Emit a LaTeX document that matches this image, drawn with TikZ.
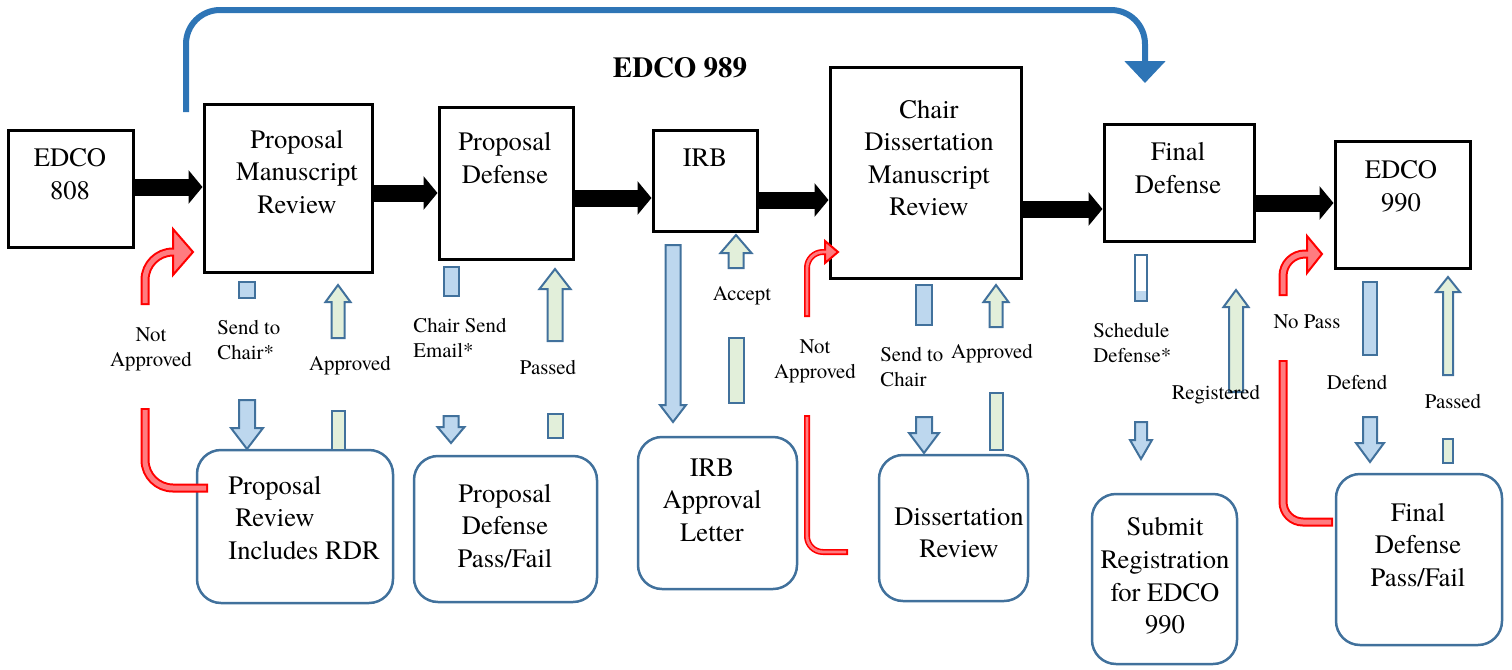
\documentclass[tikz,border=0pt]{standalone}
\usepackage{fontspec}
\setmainfont{texgyretermes}[Extension=.otf, UprightFont=*-regular, BoldFont=*-bold, ItalicFont=*-italic, BoldItalicFont=*-bolditalic]
\usetikzlibrary{arrows.meta,calc}
\definecolor{boxblue}{HTML}{41719C}
\definecolor{lblue}{HTML}{BDD7EE}
\definecolor{lgreen}{HTML}{E2EFDA}
\definecolor{topblue}{HTML}{2E75B6}
\definecolor{pinkred}{HTML}{FF7C80}
\newcommand\barrow[7]{\draw[#1] ({#2-#3},#5) -- ({#2+#3},#5) -- ({#2+#3},#6) -- ({#2+#4},#6) -- (#2,#7) -- ({#2-#4},#6) -- ({#2-#3},#6) -- cycle;}
\newcommand\bshaft[5]{\draw[#1] ({#2-#3},#4) rectangle ({#2+#3},#5);}
\begin{document}
\begin{tikzpicture}[x=0.5pt,y=-0.5pt,
  topbox/.style={draw=black, line width=1.5pt, fill=white, inner sep=0pt},
  botbox/.style={draw=boxblue, line width=1.25pt, rounded corners=12pt, inner sep=0pt},
  btxt/.style={font=\fontsize{13.3}{16.3}\selectfont, align=center, inner sep=0pt},
  ltxt/.style={font=\fontsize{10.4}{12.4}\selectfont, align=left, inner sep=0pt},
  ctxt/.style={font=\fontsize{10.4}{12.4}\selectfont, align=center, inner sep=0pt},
  barr/.style={draw=boxblue, fill=lblue, line width=1pt},
  garr/.style={draw=boxblue, fill=lgreen, line width=1pt},
  blk/.style={line width=8.5pt, -{Triangle[length=7pt,width=16.5pt]}},
  redout/.style={draw=red, line width=4.5pt},
  redin/.style={draw=pinkred, line width=2.5pt},
  redouts/.style={draw=red, line width=3pt},
  redins/.style={draw=pinkred, line width=1.4pt},
  redhead/.style={draw=red, fill=pinkred, line width=1pt, line join=miter}]
\useasboundingbox (0,0) rectangle (1512,670);

% ---------- top boxes ----------
\node[topbox, minimum width=62.5pt, minimum height=58.5pt] (e808) at (70.5,188.5) {};
\node[topbox, minimum width=84pt, minimum height=84pt] (pmr) at (288,188) {};
\node[topbox, minimum width=67pt, minimum height=76pt] (pd) at (506,183) {};
\node[topbox, minimum width=52pt, minimum height=50.5pt] (irb) at (705,180.5) {};
\node[topbox, minimum width=95.5pt, minimum height=105.5pt] (cdmr) at (925.5,172.5) {};
\node[topbox, minimum width=75pt, minimum height=58.5pt] (fd) at (1179,182.5) {};
\node[topbox, minimum width=67.5pt, minimum height=63.5pt] (e990) at (1402.5,204.5) {};

\node[btxt] (te808) at (70,174) {EDCO\\808};
\node[btxt] (tpmr) at (297,172) {Proposal\\Manuscript\\Review};
\node[btxt] (tpd) at (505,158) {Proposal\\Defense};
\node[btxt] (tirb) at (705,158) {IRB};
\node[btxt] (tcdmr) at (929,158) {Chair\\Dissertation\\Manuscript\\Review};
\node[btxt] (tfd) at (1178,168) {Final\\Defense};
\node[btxt] (te990) at (1401,186) {EDCO\\990};

\node[font=\fontsize{14.5}{16}\selectfont\bfseries, inner sep=0pt] (title) at (680,68) {EDCO 989};

% ---------- black arrows ----------
\draw[blk] (e808.east |- 0,187) -- (pmr.west |- 0,187);
\draw[blk] (pmr.east |- 0,193) -- (pd.west |- 0,193);
\draw[blk] (pd.east |- 0,198) -- (irb.west |- 0,198);
\draw[blk] (irb.east |- 0,200) -- (cdmr.west |- 0,200);
\draw[blk] (cdmr.east |- 0,209) -- (fd.west |- 0,209);
\draw[blk] (fd.east |- 0,203) -- (e990.west |- 0,203);

% ---------- top blue arrow ----------
\coordinate (ts) at (186,112);
\coordinate (te) at (1145,83);
\draw[topblue, line width=3pt, rounded corners=17pt, -{Triangle[length=11pt,width=20pt]}]
  (ts) -- (ts |- 0,10) -- (te |- 0,10) -- (te);

% ---------- bottom boxes ----------
\node[botbox, minimum width=98pt, minimum height=76.5pt] (prr) at (295,526.5) {};
\node[botbox, minimum width=91.5pt, minimum height=73pt] (pdpf) at (505.5,529) {};
\node[botbox, minimum width=79.5pt, minimum height=76pt] (irbl) at (717.5,513) {};
\node[botbox, minimum width=74.5pt, minimum height=73pt] (dr) at (953.5,528) {};
\node[botbox, minimum width=72.5pt, minimum height=85pt] (sr) at (1164.5,579) {};
\node[botbox, minimum width=83pt, minimum height=85.5pt] (fdpf) at (1419,559.5) {};

\node[btxt, align=left, anchor=west] (tprr) at (228,518) {Proposal\\\hspace{3.5pt}Review\\Includes RDR};
\node[btxt] (tpdpf) at (505,526) {Proposal\\Defense\\Pass/Fail};
\node[btxt] (tirbl) at (712,500) {IRB\\Approval\\Letter};
\node[btxt] (tdr) at (959,533) {Dissertation\\Review};
\node[btxt] (tsr) at (1165,576) {Submit\\Registration\\for EDCO\\990};
\node[btxt] (tfdpf) at (1418,545) {Final\\Defense\\Pass/Fail};

% ---------- block arrows ----------
% Send to Chair*
\bshaft{barr}{247}{8}{282}{298}
\barrow{barr}{247}{8}{16}{400}{428}{449}
% Approved
\barrow{garr}{338}{6.5}{12.5}{338}{302}{285}
\bshaft{garr}{338}{6.5}{411}{450}
% Chair Send Email*
\bshaft{barr}{451}{7.5}{267}{296}
\barrow{barr}{451}{7.5}{13.5}{416}{427}{443}
% Passed
\barrow{garr}{555}{7.5}{15.5}{341}{289}{269}
\bshaft{garr}{555}{7.5}{414}{438}
% IRB down
\barrow{barr}{673}{7.5}{13}{245}{405}{422}
% Accept
\barrow{garr}{736}{7.5}{15.5}{268}{253}{235}
\bshaft{garr}{736}{7.5}{338}{403}
% Send to Chair
\bshaft{barr}{924}{8}{285}{325}
\barrow{barr}{924}{8}{15}{417}{433}{453}
% Approved (dissertation)
\barrow{garr}{996}{6.5}{12.5}{327}{302}{285}
\bshaft{garr}{996}{6.5}{393}{450}
% Schedule Defense*
\fill[lblue] (1135,291) rectangle (1147,301);
\draw[boxblue, line width=1pt] (1135,255) rectangle (1147,301);
\barrow{barr}{1141}{6}{11}{422}{440}{459}
% Registered
\barrow{garr}{1236}{7}{12.5}{392}{307}{290}
% Defend
\bshaft{barr}{1370}{7}{282}{355}
\barrow{barr}{1370}{7}{14}{417}{443}{462}
% Passed (final)
\barrow{garr}{1448}{5}{12}{375}{292}{277}
\bshaft{garr}{1448}{5}{439}{463}

% ---------- red return arrows ----------
% 1: Proposal Review -> Proposal Manuscript Review
\coordinate (r1s) at (208,488);
\coordinate (r1g) at (145,408);
\draw[redout, rounded corners=14pt] (r1s) -- (145,488) -- (r1g);
\draw[redin, rounded corners=14pt, shorten <=1pt, shorten >=1pt] (r1s) -- (145,488) -- (r1g);
\coordinate (r1h) at (145,305);
\coordinate (r1b) at (174,252);
\draw[redout, rounded corners=14pt] (r1h) -- (145,252) -- (r1b);
\draw[redhead] (173,229) -- (193,252) -- (173,275) -- cycle;
\draw[redin, rounded corners=14pt, shorten <=1pt, shorten >=-2pt] (r1h) -- (145,252) -- (r1b);

% 2: Dissertation Review -> Chair Dissertation Manuscript Review
\coordinate (r2s) at (848,552);
\coordinate (r2g) at (807,415);
\draw[redouts, rounded corners=8pt] (r2s) -- (807,552) -- (r2g);
\draw[redins, rounded corners=8pt, shorten <=1pt, shorten >=1pt] (r2s) -- (807,552) -- (r2g);
\coordinate (r2h) at (807,317);
\coordinate (r2b) at (826,252);
\draw[redouts, rounded corners=8pt] (r2h) -- (807,252) -- (r2b);
\draw[redhead] (825,241) -- (838,252) -- (825,263) -- cycle;
\draw[redins, rounded corners=8pt, shorten <=1pt, shorten >=-2pt] (r2h) -- (807,252) -- (r2b);

% 3: Final Defense Pass/Fail -> EDCO 990
\coordinate (r3s) at (1333,522);
\coordinate (r3g) at (1283,360);
\draw[redout, rounded corners=10pt] (r3s) -- (1283,522) -- (r3g);
\draw[redin, rounded corners=10pt, shorten <=1pt, shorten >=1pt] (r3s) -- (1283,522) -- (r3g);
\coordinate (r3h) at (1283,296);
\coordinate (r3b) at (1308,254);
\draw[redout, rounded corners=11pt] (r3h) -- (1283,254) -- (r3b);
\draw[redhead] (1307,236) -- (1322,254) -- (1307,273) -- cycle;
\draw[redin, rounded corners=11pt, shorten <=1pt, shorten >=-2pt] (r3h) -- (1283,254) -- (r3b);

% ---------- labels ----------
\node[ctxt] (lna1) at (151,349) {Not\\Approved};
\node[ltxt, anchor=west] (lsc1) at (217,340) {Send to\\Chair*};
\node[ctxt] (lap1) at (350,366) {Approved};
\node[ltxt, anchor=west] (lcse) at (413,338) {Chair Send\\Email*};
\node[ctxt] (lps1) at (548,367) {Passed};
\node[ctxt] (lacc) at (742,296) {Accept};
\node[ctxt] (lna2) at (815,361) {Not\\Approved};
\node[ltxt, anchor=west] (lsc2) at (880,367) {Send to\\Chair};
\node[ctxt] (lap2) at (992,354) {Approved};
\node[ltxt, anchor=west] (lsd) at (1093,343) {Schedule\\Defense*};
\node[ctxt] (lreg) at (1216,395) {Registered};
\node[ctxt] (lnp) at (1307,322) {No Pass};
\node[ctxt] (ldef) at (1357,382) {Defend};
\node[ctxt] (lps2) at (1453,401) {Passed};
\end{tikzpicture}
\end{document}
